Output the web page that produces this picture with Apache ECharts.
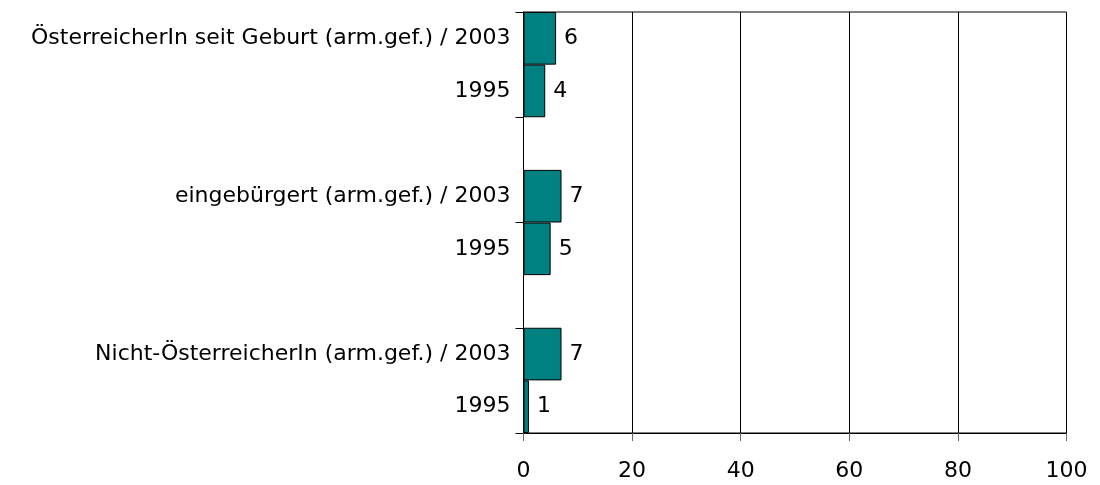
<!DOCTYPE html>
<html><head><meta charset="utf-8">
<script src="https://cdn.jsdelivr.net/npm/echarts@6/dist/echarts.min.js"></script>
<style>html,body{margin:0;padding:0;background:#fff}#c{width:1100px;height:485px}</style>
</head><body><div id="c"></div>
<script>
// categories listed bottom to top
const categories = ["1995", "Nicht-ÖsterreicherIn (arm.gef.) / 2003", "", "1995", "eingebürgert (arm.gef.) / 2003", "", "1995", "ÖsterreicherIn seit Geburt (arm.gef.) / 2003"];
const values = [1, 7, null, 5, 7, null, 4, 6];
const xTicks = [0, 20, 40, 60, 80, 100];

const chart = echarts.init(document.getElementById('c'));
const font = 'DejaVu Sans, sans-serif';
chart.setOption({
  animation: false,
  grid: {left: 523.5, right: 33.5, top: 12, bottom: 52, show: true, borderColor: '#000', borderWidth: 1},
  xAxis: {
    type: 'value', min: xTicks[0], max: xTicks[xTicks.length - 1], interval: 20,
    axisLine: {show: true, lineStyle: {color: '#000', width: 1}},
    axisTick: {show: true, length: 8, lineStyle: {color: '#666'}},
    axisLabel: {color: '#000', fontSize: 22, fontFamily: font, margin: 27},
    splitLine: {show: true, lineStyle: {color: '#000', width: 1}}
  },
  yAxis: {
    type: 'category', data: categories,
    axisLine: {show: true, onZero: false, lineStyle: {color: '#000', width: 1}},
    axisTick: {show: true, length: 8, interval: function (i) { return i % 2 === 0; }, lineStyle: {color: '#000'}},
    axisLabel: {color: '#000', fontSize: 22, fontFamily: font, margin: 13, interval: 0},
    splitLine: {show: false}
  },
  series: [{
    type: 'bar', data: values, barCategoryGap: '0%', barWidth: '100%',
    itemStyle: {color: '#008080', borderColor: '#000', borderWidth: 1},
    label: {show: true, position: 'right', distance: 8, color: '#000', fontSize: 22, fontFamily: font}
  }]
});
</script></body></html>
